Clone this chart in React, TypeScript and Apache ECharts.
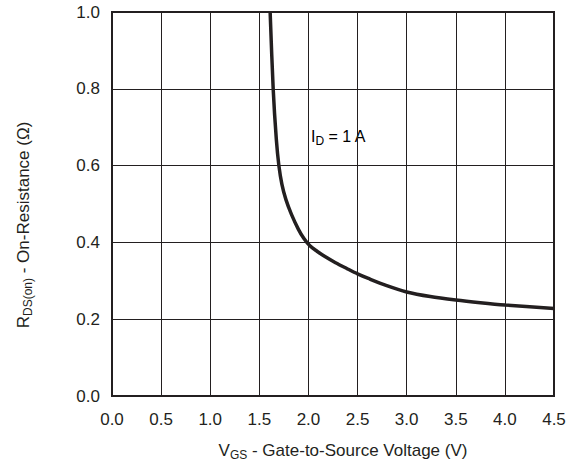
import React, { useEffect, useRef } from "react";
import * as echarts from "echarts";

const vgs = [1.61, 1.641, 1.673, 1.699, 1.73, 1.77, 1.827, 1.898, 1.954, 2.015, 2.087, 2.168, 2.276, 2.39, 2.5, 2.61, 2.79, 3.0, 3.24, 3.5, 3.75, 4.0, 4.5];
const rdson = [1.0, 0.8, 0.668, 0.6, 0.551, 0.512, 0.473, 0.434, 0.41, 0.391, 0.377, 0.363, 0.347, 0.332, 0.318, 0.306, 0.288, 0.271, 0.259, 0.25, 0.243, 0.237, 0.228];
const xTicks = [0, 0.5, 1.0, 1.5, 2.0, 2.5, 3.0, 3.5, 4.0, 4.5];
const yTicks = [0, 0.2, 0.4, 0.6, 0.8, 1.0];

const INK = "#231f20";
const FONT = "Liberation Sans, Arial, Helvetica, sans-serif";

export default function App() {
  const ref = useRef<HTMLDivElement>(null);
  useEffect(() => {
    document.body.style.margin = "0";
    const chart = echarts.init(ref.current!, null, { renderer: "svg" });
    const rich = {
      a: { fontSize: 17, lineHeight: 17, fontFamily: FONT, color: INK },
      s: { fontSize: 12, lineHeight: 12, padding: [9, 0, 0, 0], fontFamily: FONT, color: INK },
    };
    const richSmall = {
      a: { fontSize: 16, lineHeight: 16, fontFamily: FONT, color: INK },
      s: { fontSize: 12, lineHeight: 12, padding: [9, 0, 0, 0], fontFamily: FONT, color: INK },
    };
    chart.setOption({
      animation: false,
      textStyle: { fontFamily: FONT, color: INK },
      grid: {
        left: 112,
        right: 17,
        top: 12,
        bottom: 72,
        show: true,
        borderColor: INK,
        borderWidth: 2,
        backgroundColor: "transparent",
        outerBoundsMode: "none",
      },
      xAxis: {
        type: "value",
        min: xTicks[0],
        max: xTicks[xTicks.length - 1],
        interval: 0.5,
        axisLine: { show: true, lineStyle: { color: INK, width: 2 } },
        axisTick: { show: false },
        splitLine: { show: true, lineStyle: { color: INK, width: 1 } },
        axisLabel: {
          fontSize: 17,
          color: INK,
          margin: 15,
          fontFamily: FONT,
          formatter: (v: number) => v.toFixed(1),
        },
        name: "{a|V}{s|GS}{a| - Gate-to-Source Voltage (V)}",
        nameLocation: "middle",
        nameGap: 46,
        nameTextStyle: { rich, padding: [0, 0, 0, 20] },
      },
      yAxis: {
        type: "value",
        min: yTicks[0],
        max: yTicks[yTicks.length - 1],
        interval: 0.2,
        axisLine: { show: true, lineStyle: { color: INK, width: 2 } },
        axisTick: { show: false },
        splitLine: { show: true, lineStyle: { color: INK, width: 1 } },
        axisLabel: {
          fontSize: 17,
          color: INK,
          margin: 12,
          fontFamily: FONT,
          formatter: (v: number) => v.toFixed(1),
        },
        name: "{a|R}{s|DS(on)}{a| - On-Resistance (Ω)}",
        nameLocation: "middle",
        nameGap: 80,
        nameTextStyle: { rich, padding: [0, 42, 0, 0] },
      },
      graphic: [
        {
          type: "text",
          left: 311,
          top: 126,
          style: {
            text: "{a|I}{s|D}{a| = 1 A}",
            rich: richSmall,
          },
        },
      ],
      series: [
        {
          type: "line",
          data: vgs.map((v, i) => [v, rdson[i]]),
          smooth: 0.3,
          showSymbol: false,
          symbol: "none",
          lineStyle: { color: INK, width: 3.5 },
          clip: true,
        },
      ],
    });
    return () => chart.dispose();
  }, []);
  return <div ref={ref} style={{ width: 571, height: 468 }} />;
}
